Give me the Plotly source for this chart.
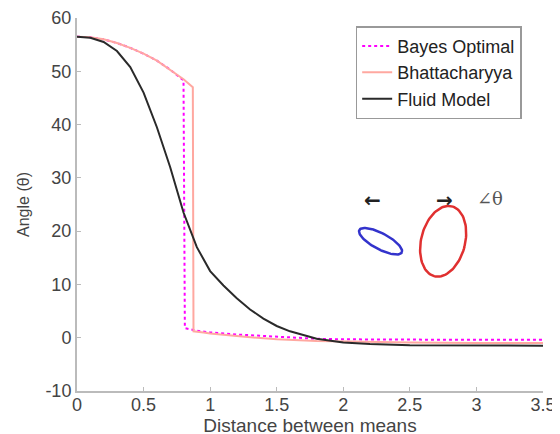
import numpy as np
import plotly.graph_objects as go

# ---- data ----
bayes_x = [0, 0.1, 0.2, 0.3, 0.4, 0.5, 0.6, 0.7, 0.8, 0.81, 0.9, 1.0, 1.2, 1.4, 1.6, 1.8, 2.0, 2.5, 3.0, 3.5]
bayes_y = [56.5, 56.4, 56.0, 55.3, 54.4, 53.3, 52.0, 50.3, 48.3, 1.8, 1.3, 1.0, 0.6, 0.3, 0.0, -0.2, -0.3, -0.4, -0.4, -0.4]

bhat_x = [0, 0.1, 0.2, 0.3, 0.4, 0.5, 0.6, 0.7, 0.8, 0.87, 0.875, 0.95, 1.0, 1.2, 1.5, 1.8, 2.0, 2.5, 3.0, 3.5]
bhat_y = [56.5, 56.4, 56.0, 55.3, 54.4, 53.3, 52.0, 50.3, 48.5, 47.0, 1.2, 1.0, 0.8, 0.3, -0.3, -0.6, -0.7, -0.9, -1.0, -1.0]

fluid_x = [0, 0.1, 0.2, 0.3, 0.4, 0.5, 0.6, 0.7, 0.8, 0.9, 1.0, 1.1, 1.2, 1.3, 1.4, 1.5, 1.6, 1.8, 2.0, 2.2, 2.5, 3.0, 3.5]
fluid_y = [56.5, 56.3, 55.5, 53.8, 50.8, 46.0, 39.5, 32.0, 23.5, 17.0, 12.5, 9.8, 7.4, 5.3, 3.6, 2.2, 1.2, -0.2, -0.9, -1.2, -1.4, -1.5, -1.5]

x_ticks = [0, 0.5, 1, 1.5, 2, 2.5, 3, 3.5]
x_tick_labels = ["0", "0.5", "1", "1.5", "2", "2.5", "3", "3.5"]
y_ticks = [-10, 0, 10, 20, 30, 40, 50, 60]
y_tick_labels = ["-10", "0", "10", "20", "30", "40", "50", "60"]

# inset ellipses: (center x, center y, semi-axis a px, semi-axis b px, rotation deg, colour)
ellipses = [
    (2.28, 18.1, 24, 8, -28, "#3333cc"),
    (2.75, 18.1, 22, 36, -14, "#e03030"),
]

FONT = "Liberation Sans, Arial, sans-serif"
W, H = 560, 434
ML, MR, MT, MB = 69, 25, 10, 51
PX_X = (W - ML - MR) / 3.5
PX_Y = (H - MT - MB) / 70.0

fig = go.Figure()
fig.add_trace(go.Scatter(x=bayes_x, y=bayes_y, mode="lines", name="Bayes Optimal",
                         line=dict(color="#ff00ff", width=2, dash="dot")))
fig.add_trace(go.Scatter(x=bhat_x, y=bhat_y, mode="lines", name="Bhattacharyya",
                         line=dict(color="#ffa8a0", width=2)))
fig.add_trace(go.Scatter(x=fluid_x, y=fluid_y, mode="lines", name="Fluid Model",
                         line=dict(color="#2a2a2a", width=2)))

t = np.linspace(0, 2 * np.pi, 100)
for cx, cy, a, b, rot, col in ellipses:
    r = np.deg2rad(rot)
    px = a * np.cos(t) * np.cos(r) - b * np.sin(t) * np.sin(r)
    py = a * np.cos(t) * np.sin(r) + b * np.sin(t) * np.cos(r)
    fig.add_trace(go.Scatter(x=cx + px / PX_X, y=cy + py / PX_Y, mode="lines",
                             line=dict(color=col, width=2.5), showlegend=False,
                             hoverinfo="skip"))

fig.add_annotation(x=2.22, y=25.8, text="<b>←</b>", showarrow=False,
                   font=dict(size=20, color="#222", family="DejaVu Sans"))
fig.add_annotation(x=2.76, y=25.8, text="<b>→</b>", showarrow=False,
                   font=dict(size=20, color="#222", family="DejaVu Sans"))
fig.add_annotation(x=3.1, y=26.2, text="∠θ", showarrow=False,
                   font=dict(size=18, color="#555", family="DejaVu Serif"))

fig.update_layout(
    width=W, height=H,
    margin=dict(l=ML, r=MR, t=MT, b=MB),
    paper_bgcolor="white", plot_bgcolor="white",
    font=dict(family=FONT, size=14, color="#333"),
    showlegend=True,
    legend=dict(x=0.598, y=0.978, xanchor="left", yanchor="top",
                bgcolor="white", bordercolor="#999", borderwidth=1.5,
                font=dict(size=18, color="#222", family=FONT),
                tracegroupgap=0, itemwidth=30),
)
fig.update_xaxes(range=[0, 3.5], tickvals=x_ticks, ticktext=x_tick_labels,
                 automargin=False, ticklabelstandoff=-4,
                 showgrid=False, zeroline=False, showline=True, linecolor="#bbb",
                 linewidth=2, ticks="inside", ticklen=4, tickcolor="#bbb",
                 tickfont=dict(size=18, color="#444"),
                 title=dict(text="Distance between means", standoff=1,
                            font=dict(size=19, color="#444")))
fig.update_yaxes(range=[-10, 60], tickvals=y_ticks, ticktext=y_tick_labels,
                 automargin=False,
                 showgrid=False, zeroline=False, showline=True, linecolor="#bbb",
                 linewidth=2, ticks="inside", ticklen=4, tickcolor="#bbb",
                 tickfont=dict(size=18, color="#444"),
                 title=dict(text="Angle (θ)", standoff=12,
                            font=dict(size=16, color="#444")))

fig.write_html("out.html")
